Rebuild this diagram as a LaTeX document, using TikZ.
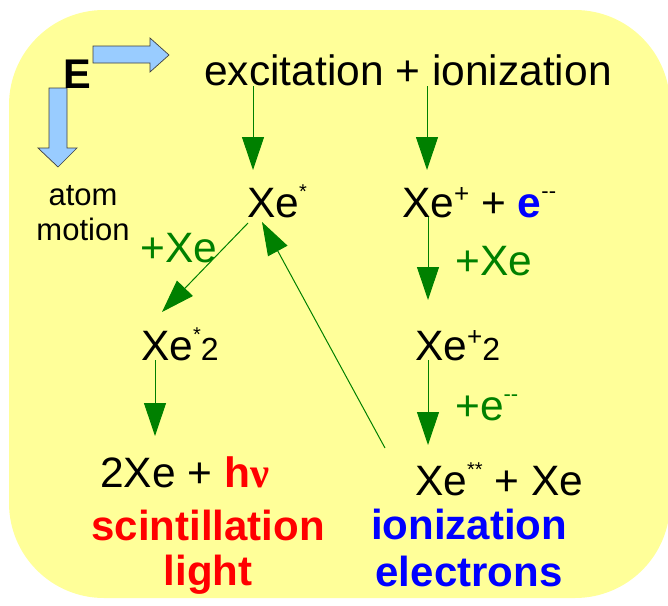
\documentclass[tikz,border=0pt]{standalone}
\usepackage{fontspec}
\setmainfont{Liberation Sans}
\newfontfamily\greekserif{Liberation Serif}
\usepackage{tikz}
\usetikzlibrary{calc,arrows.meta}
\definecolor{panel}{HTML}{FFFF99}
\definecolor{flowgreen}{HTML}{008000}
\definecolor{fieldblue}{HTML}{99CCFF}
\definecolor{fieldedge}{HTML}{404040}
\newcommand{\raised}[3]{\raisebox{#1}{\fontsize{#2}{#2}\selectfont #3}}

\begin{document}
\begin{tikzpicture}[x=1pt, y=-1pt, every node/.style={inner sep=0pt, anchor=base west, font=\fontsize{42.5}{46}\selectfont},
  flow/.style={draw=flowgreen, line width=1pt, -{Triangle[length=33pt,width=22pt]}},
  gain/.style={text=flowgreen},
  field/.style={fill=fieldblue, draw=fieldedge, line width=0.7pt}]
\useasboundingbox (0,0) rectangle (668,605);
\fill[panel, rounded corners=95pt] (9,10) rectangle (670,598);
% field direction
\draw[field] (93,46) -- (150,46) -- (150,38) -- (169,55) -- (150,72) -- (150,63) -- (93,63) -- cycle;
\draw[field] (49,88) -- (67,88) -- (67,148) -- (77,148) -- (58,167) -- (38,148) -- (49,148) -- cycle;
\node[font=\fontsize{41.5}{46}\selectfont\bfseries] (efield) at (63,88) {E};
\node[font=\fontsize{31}{35}\selectfont, align=center, anchor=base] (motion) at (83,240) {atom\\motion};
% reaction chain
\node (exc) at (204,85) {excitation + ionization};
\node (xs) at (247,217) {Xe\raised{19pt}{20}{*}};
\node (xion) at (402,217) {Xe\raised{15pt}{26}{+} + {\color{blue}\bfseries e}\raised{19pt}{22}{-{}-}};
\node (xs2) at (141,360) {Xe\raised{19pt}{20}{*}{\fontsize{32}{32}\selectfont 2}};
\node (xion2) at (415,360) {Xe\raised{15pt}{26}{+}{\fontsize{32}{32}\selectfont 2}};
\node (xss) at (415,495) {Xe\raised{19pt}{20}{**} + Xe};
\node (hnu) at (100,487) {2Xe + {\color{red}\bfseries h{\greekserif ν}}};
\node[text=red, font=\fontsize{42}{45}\selectfont\bfseries, align=center, anchor=base] (scint) at (208,585) {scintillation\\light};
\node[text=blue, font=\fontsize{42}{47}\selectfont\bfseries, align=center, anchor=base] (ionel) at (469,586) {ionization\\electrons};
\node[gain] (plusxe) at (140,262) {+Xe};
\node[gain] (plusxe2) at (455,275) {+Xe};
\node[gain] (pluse) at (455,420) {+e\raised{19pt}{22}{-{}-}};
\draw[flow] ($(exc.base west)+(49,1)$) -- ($(xs.base west)+(6,-47)$);
\draw[flow] ($(exc.base west)+(223,1)$) -- ($(xion.base west)+(25,-47)$);
\draw[flow] ($(xs.base west)+(1,6)$) -- ($(xs2.base west)+(21,-48)$);
\draw[flow] ($(xion.base west)+(26,0)$) -- ($(xion2.base west)+(13,-60)$);
\draw[flow] ($(xs2.base west)+(14,0)$) -- ($(hnu.base west)+(55,-51)$);
\draw[flow] ($(xion2.base west)+(13,0)$) -- ($(xss.base west)+(13,-50)$);
\draw[flow] ($(xss.base west)+(-30,-47)$) -- ($(xs.base west)+(15,5)$);
\end{tikzpicture}
\end{document}
